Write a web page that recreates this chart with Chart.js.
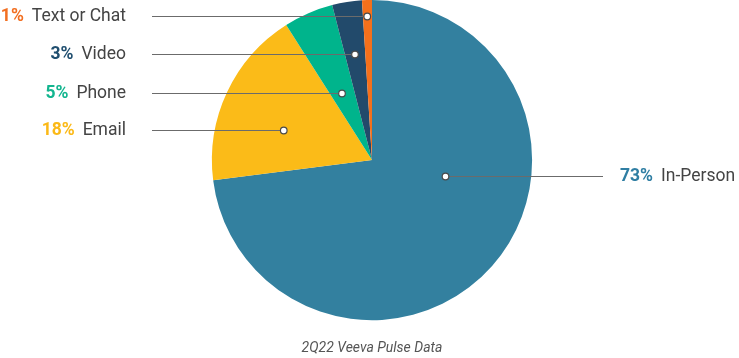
<!DOCTYPE html>
<html lang="en">

<head>
  <meta charset="UTF-8">
  <script src="https://cdn.jsdelivr.net/npm/chart.js"></script>
  <title>2Q22 Veeva Pulse Data</title>
  <style>
    body {
      margin: 0;
      background: #fff;
    }

    #wrap {
      width: 739px;
      height: 358px;
    }
  </style>
</head>

<body>
  <div id="wrap">
    <canvas id="myChart"></canvas>
  </div>
  <script>
    // data
    const channels = ['In-Person', 'Email', 'Phone', 'Video', 'Text or Chat'];
    const shares = [73, 18, 5, 3, 1];
    const sliceColors = ['#33809f', '#fbbb18', '#00b48c', '#224a6b', '#f5701b'];
    const textColors = ['#2f7ea3', '#fbb917', '#13b58f', '#1f4e6f', '#f26f21'];

    // label layout: side and row for every slice
    const labelSide = ['right', 'left', 'left', 'left', 'left'];
    const labelRow = [176, 130, 93, 54, 16];

    const calloutPlugin = {
      id: 'callouts',
      afterDatasetsDraw(chart) {
        const ctx = chart.ctx;
        const meta = chart.getDatasetMeta(0);
        const area = chart.chartArea;
        meta.data.forEach(function (arc, i) {
          const y = labelRow[i];
          const side = labelSide[i];
          // find the chord of this slice at the label row
          let minX = null, maxX = null;
          for (let x = area.left; x <= area.right; x += 0.5) {
            if (arc.inRange(x, y)) {
              if (minX === null) minX = x;
              maxX = x;
            }
          }
          if (minX === null) return;
          if (side === 'right') minX = Math.max(minX, arc.x);
          else maxX = Math.min(maxX, arc.x);
          const dotX = (minX + maxX) / 2 + (side === 'right' ? -6 : 0);

          ctx.save();
          ctx.strokeStyle = '#6b6b6b';
          ctx.lineWidth = 1;
          ctx.beginPath();
          if (side === 'left') {
            ctx.moveTo(152, y + 0.5);
            ctx.lineTo(dotX, y + 0.5);
          } else {
            ctx.moveTo(dotX, y + 0.5);
            ctx.lineTo(603, y + 0.5);
          }
          ctx.stroke();

          ctx.beginPath();
          ctx.arc(dotX, y + 0.5, 3.3, 0, Math.PI * 2);
          ctx.fillStyle = '#fff';
          ctx.fill();
          ctx.strokeStyle = '#4a4a4a';
          ctx.lineWidth = 1.2;
          ctx.stroke();

          // label text
          const pct = shares[i] + '%';
          ctx.textBaseline = 'middle';
          ctx.font = 'bold 17.5px Roboto';
          const pw = ctx.measureText(pct).width;
          ctx.font = '17.5px Roboto';
          const nw = ctx.measureText(channels[i]).width;
          const gap = 8;
          let startX;
          if (side === 'left') startX = 126 - nw - gap - pw;
          else startX = 620;
          ctx.textAlign = 'left';
          ctx.font = 'bold 17.5px Roboto';
          ctx.fillStyle = textColors[i];
          ctx.fillText(pct, startX, y + 1);
          ctx.font = '17.5px Roboto';
          ctx.fillStyle = '#444';
          ctx.fillText(channels[i], startX + pw + gap, y + 1);
          ctx.restore();
        });
      }
    };

    const ctx = document.getElementById('myChart');

    new Chart(ctx, {
      type: 'pie',
      data: {
        labels: channels,
        datasets: [{
          data: shares,
          backgroundColor: sliceColors,
          borderWidth: 0
        }]
      },
      options: {
        responsive: true,
        maintainAspectRatio: false,
        animation: false,
        layout: {
          padding: { left: 5, top: 0, right: 0, bottom: 0 }
        },
        plugins: {
          legend: { display: false },
          tooltip: { enabled: false },
          title: {
            display: true,
            position: 'bottom',
            text: '2Q22 Veeva Pulse Data',
            color: '#555',
            font: { family: 'Roboto', size: 14, style: 'italic', weight: 'normal' },
            padding: { top: 20, bottom: 1 }
          }
        }
      },
      plugins: [calloutPlugin]
    });
  </script>
</body>

</html>
